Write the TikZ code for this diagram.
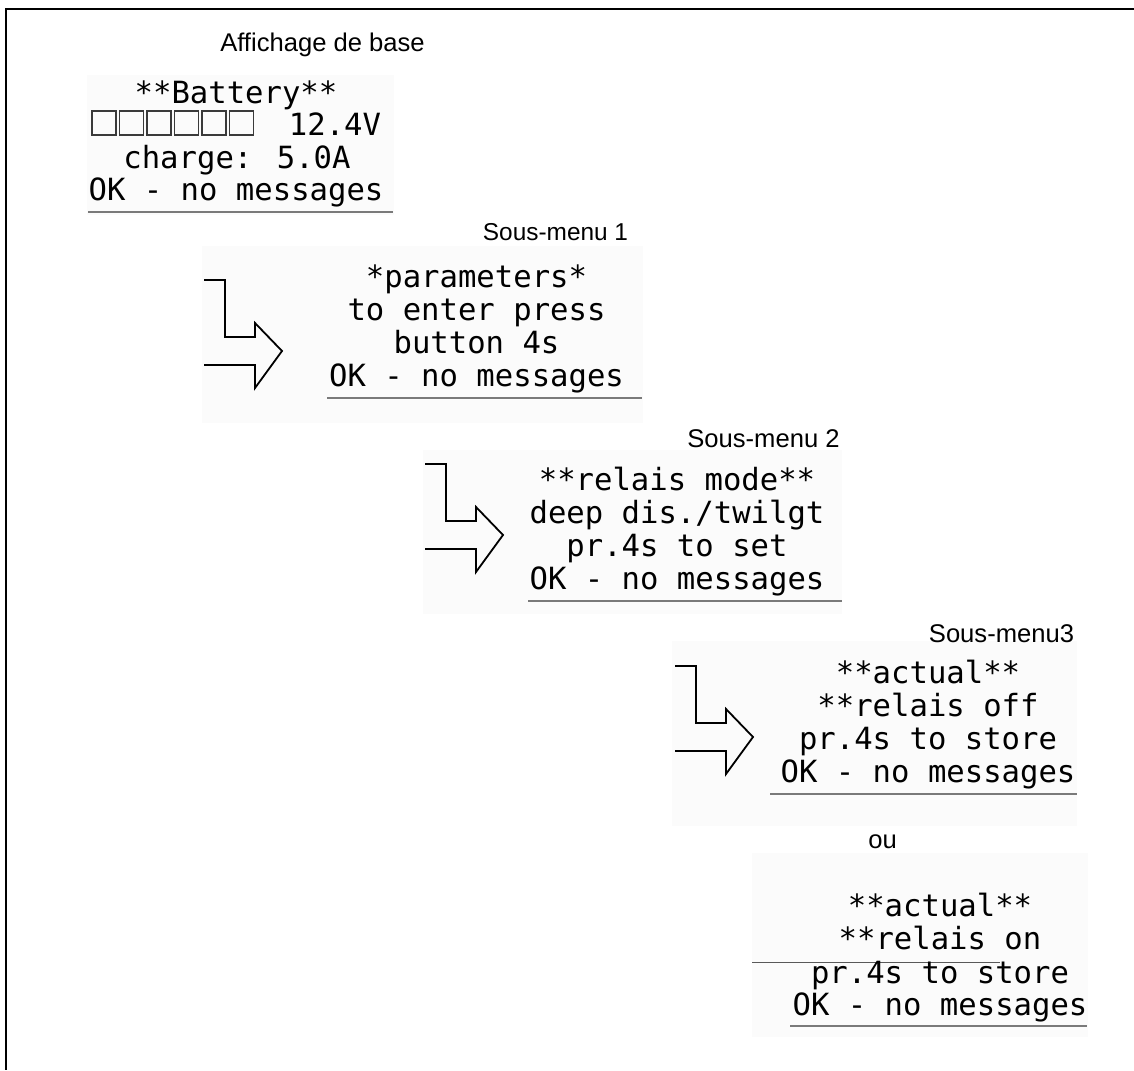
\documentclass[tikz,border=0pt]{standalone}
\usepackage{fontspec}
\setmainfont{Liberation Sans}
\newfontfamily\lcd{DejaVu Sans Mono}
\definecolor{ulgray}{HTML}{7A7A7A}
\definecolor{scrbg}{HTML}{FBFBFB}
\definecolor{boxgray}{HTML}{3A3A3A}
\begin{document}
\begin{tikzpicture}[x=0.5pt,y=-0.5pt,
  lcdline/.style={font=\lcd\fontsize{15.3}{16}\selectfont, inner sep=0pt, anchor=base},
  lbl/.style={font=\fontsize{12.8}{14}\selectfont, inner sep=0pt, anchor=base},
  uline/.style={draw=ulgray, line width=1pt},
  boxline/.style={draw=boxgray, line width=0.75pt},
  scr/.style={fill=scrbg, draw=none},
  arrowline/.style={draw=black, line width=0.9pt, line join=miter},
  menuarrow/.pic={\draw[arrowline] (0,0) -- (21,0) -- (21,57) -- (51,57) -- (51,43) -- (78,71) -- (51,108) -- (51,85) -- (0,85);}
]
\useasboundingbox (0,0) rectangle (1134,1070);
% frame
\draw[line width=1.1pt] (1134,9) -- (6,9) -- (6,1070);
% screen backgrounds
\fill[scr] (87,75) rectangle (394,215);
\fill[scr] (202,246) rectangle (643,423);
\fill[scr] (423,450) rectangle (842,614);
\fill[scr] (672,641) rectangle (1077,826);
\fill[scr] (752,853) rectangle (1088,1037);

% labels
\node[lbl] (laff) at (322.5,52) {Affichage de base};
\node[lbl, font=\fontsize{12.2}{14}\selectfont] (lsm1) at (555.5,240) {Sous-menu 1};
\node[lbl] (lsm2) at (763.5,447) {Sous-menu 2};
\node[lbl] (lsm3) at (1001.5,642) {Sous-menu3};
\node[lbl] (lou) at (882.5,848) {ou};

% screen 1
\node[lcdline] (s1a) at (236,104) {**Battery**};
\foreach \i in {0,...,5} \draw[boxline] ({92+27.5*\i},111) rectangle ++(24,24);
\node[lcdline] (s1b) at (335,135) {12.4V};
\node[lcdline] (s1c) at (237,168) {charge: 5.0A};
\node[lcdline] (s1d) at (236,200) {OK - no messages};
\draw[uline] (88,211.5) -- (393,211.5);

% screen 2
\pic at (204,280) {menuarrow};
\node[lcdline] (s2a) at (476.5,287) {*parameters*};
\node[lcdline] (s2b) at (476.5,320) {to enter press};
\node[lcdline] (s2c) at (476.5,353) {button 4s};
\node[lcdline] (s2d) at (476.5,386) {OK - no messages};
\draw[uline] (327,397.5) -- (642,397.5);

% screen 3
\pic at (425,464) {menuarrow};
\node[lcdline] (s3a) at (677,490) {**relais mode**};
\node[lcdline] (s3b) at (677,523) {deep dis./twilgt};
\node[lcdline] (s3c) at (677,556) {pr.4s to set};
\node[lcdline] (s3d) at (677,589) {OK - no messages};
\draw[uline] (528,601) -- (842,601);

% screen 4
\pic at (675,666) {menuarrow};
\node[lcdline] (s4a) at (928,683) {**actual**};
\node[lcdline] (s4b) at (928,716) {**relais off};
\node[lcdline] (s4c) at (928,749) {pr.4s to store};
\node[lcdline] (s4d) at (928,782) {OK - no messages};
\draw[uline] (770,794) -- (1077,794);

% screen 5
\node[lcdline] (s5a) at (940,916) {**actual**};
\node[lcdline] (s5b) at (940,949) {**relais on};
\draw[draw=black!65, line width=0.5pt] (752,962) -- (1000,962);
\node[lcdline] (s5c) at (940,983) {pr.4s to store};
\node[lcdline] (s5d) at (940,1015) {OK - no messages};
\draw[uline] (790,1026) -- (1087,1026);
\end{tikzpicture}
\end{document}
